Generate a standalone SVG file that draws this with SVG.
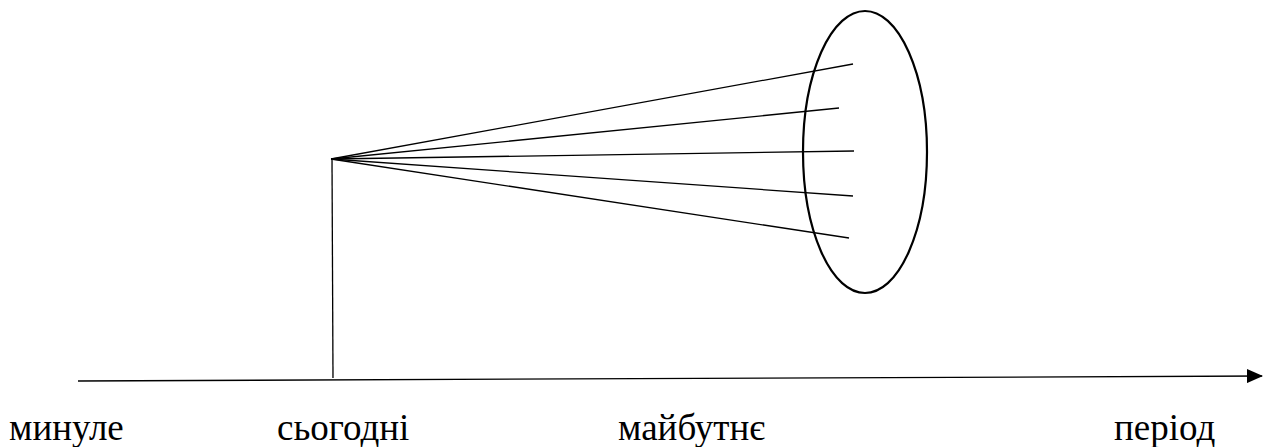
<svg xmlns="http://www.w3.org/2000/svg" width="1263" height="447" viewBox="0 0 1263 447">
<style>
.ln{stroke:#000;stroke-width:1.3;fill:none}
.t{font-family:"Liberation Serif","Times New Roman",serif;font-size:37px;fill:#000}
</style>
<defs>
<marker id="arr" markerWidth="16" markerHeight="14" refX="15" refY="7" orient="auto" markerUnits="userSpaceOnUse">
<path d="M0,0 L16,7 L0,14 Z" fill="#000"/>
</marker>
</defs>
<rect width="1263" height="447" fill="#fff"/>
<g id="ellipse"><ellipse cx="865" cy="152" rx="62" ry="141" stroke="#000" stroke-width="2.2" fill="none"/></g>
<g id="connectors">
<line class="ln" x1="331" y1="159" x2="853" y2="64"/>
<line class="ln" x1="331" y1="159" x2="839" y2="108"/>
<line class="ln" x1="331" y1="159" x2="854" y2="151"/>
<line class="ln" x1="331" y1="159" x2="853" y2="196"/>
<line class="ln" x1="331" y1="159" x2="849" y2="238"/>
<line class="ln" x1="332" y1="159" x2="333" y2="378"/>
<line class="ln" x1="78" y1="381" x2="1262" y2="376" marker-end="url(#arr)"/>
</g>
<g id="labels">
<text class="t" x="9" y="440">минуле</text>
<text class="t" x="277" y="440">сьогодні</text>
<text class="t" x="618" y="440">майбутнє</text>
<text class="t" x="1114" y="440">період</text>
</g>
</svg>
